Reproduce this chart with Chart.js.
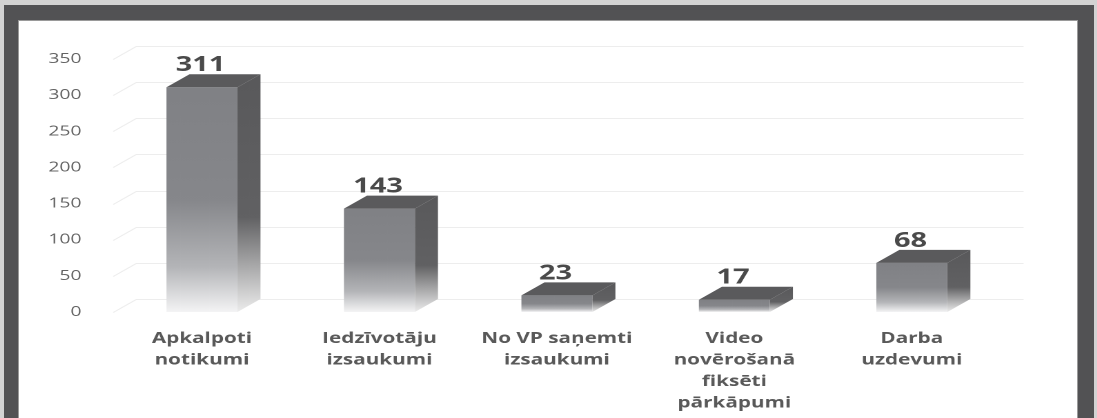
<!DOCTYPE html>
<html>
<head>
<meta charset="utf-8">
<script src="https://cdn.jsdelivr.net/npm/chart.js@4"></script>
<style>
    body { margin: 0; background: #d3d3d3; width: 1097px; height: 418px; overflow: hidden; position: relative; }
    #ramis { position: absolute; left: 4px; top: 5px; width: 1090px; height: 500px; background: #525254; }
    #lapa { position: absolute; left: 18px; top: 20px; width: 1060px; height: 500px; background: #fff; box-shadow: inset 0 0 0 1px #9a9a9a; }
    #ietvars { position: absolute; left: 18px; top: 20px; transform: scaleX(1.38); transform-origin: 0 0; }
</style>
</head>
<body>
<div id="ramis"></div>
<div id="lapa"></div>
<div id="ietvars"><canvas id="grafiks" width="768" height="398"></canvas></div>
<script>
const kategorijas = [
    ['Apkalpoti', 'notikumi'],
    ['Iedzīvotāju', 'izsaukumi'],
    ['No VP saņemti', 'izsaukumi'],
    ['Video', 'novērošanā', 'fiksēti', 'pārkāpumi'],
    ['Darba', 'uzdevumi']
];
const vertibas = [311, 143, 23, 17, 68];
const yTicks = [0, 50, 100, 150, 200, 250, 300, 350];

// 3D dziļums (loģiskajos pikseļos, pirms horizontālās izstiepšanas)
const dzX = 16.7;
const dzY = 13;

function prieksasKrasa(c) {
    const chart = c.chart;
    const y = chart.scales.y;
    if (!y || c.raw === undefined) return '#848589';
    const augsa = y.getPixelForValue(c.raw);
    const pamats = y.getPixelForValue(0);
    if (!isFinite(augsa) || !isFinite(pamats)) return '#848589';
    const g = chart.ctx.createLinearGradient(0, augsa, 0, pamats);
    g.addColorStop(0, '#808185');
    g.addColorStop(0.5, '#86878b');
    g.addColorStop(0.8, '#b4b5b8');
    g.addColorStop(1, '#f4f4f5');
    return g;
}

const sienas = {
    id: 'sienas',
    beforeDatasetsDraw(chart) {
        const ctx = chart.ctx;
        const y = chart.scales.y;
        const { left, right } = chart.chartArea;
        ctx.save();
        ctx.strokeStyle = '#ededed';
        ctx.lineWidth = 1;
        yTicks.forEach(v => {
            const py = Math.round(y.getPixelForValue(v)) + 0.5;
            ctx.beginPath();
            ctx.moveTo(left, py);
            ctx.lineTo(left + dzX, py - dzY);
            ctx.lineTo(right + dzX, py - dzY);
            ctx.stroke();
        });
        ctx.restore();
    },
    afterDatasetsDraw(chart) {
        const ctx = chart.ctx;
        const meta = chart.getDatasetMeta(0);
        ctx.save();
        meta.data.forEach((bar, i) => {
            const p = bar.getProps(['x', 'y', 'base', 'width'], true);
            const l = p.x - p.width / 2;
            const r = p.x + p.width / 2;

            // sāns
            const gs = ctx.createLinearGradient(0, p.y - dzY, 0, p.base);
            gs.addColorStop(0, '#59595b');
            gs.addColorStop(0.6, '#616163');
            gs.addColorStop(1, '#ececec');
            ctx.fillStyle = gs;
            ctx.beginPath();
            ctx.moveTo(r, p.y);
            ctx.lineTo(r + dzX, p.y - dzY);
            ctx.lineTo(r + dzX, p.base - dzY);
            ctx.lineTo(r, p.base);
            ctx.closePath();
            ctx.fill();

            // augša
            ctx.fillStyle = '#5a5a5c';
            ctx.beginPath();
            ctx.moveTo(l, p.y);
            ctx.lineTo(l + dzX, p.y - dzY);
            ctx.lineTo(r + dzX, p.y - dzY);
            ctx.lineTo(r, p.y);
            ctx.closePath();
            ctx.fill();

            // vērtība
            ctx.fillStyle = '#4a4a4a';
            ctx.font = 'bold 21px "Open Sans"';
            ctx.textAlign = 'center';
            ctx.textBaseline = 'alphabetic';
            ctx.fillText(vertibas[i], p.x - 1, p.y - dzY - 3);
        });
        ctx.restore();
    }
};

new Chart(document.getElementById('grafiks'), {
    type: 'bar',
    data: {
        labels: kategorijas,
        datasets: [{
            data: vertibas,
            backgroundColor: prieksasKrasa,
            borderWidth: 0,
            categoryPercentage: 0.8,
            barPercentage: 0.5
        }]
    },
    options: {
        responsive: false,
        animation: false,
        devicePixelRatio: 2,
        events: [],
        layout: { padding: { top: 39, right: 56, left: 0, bottom: 0 } },
        plugins: {
            legend: { display: false },
            tooltip: { enabled: false }
        },
        scales: {
            x: {
                grid: { display: false },
                border: { display: false },
                ticks: {
                    color: '#595959',
                    font: { family: 'Open Sans', size: 15, weight: 'bold', lineHeight: 1.43 },
                    padding: 8,
                    maxRotation: 0,
                    autoSkip: false
                },
                afterFit: s => { s.height = 106; }
            },
            y: {
                min: yTicks[0],
                max: yTicks[yTicks.length - 1],
                grid: { display: false },
                border: { display: false },
                ticks: {
                    color: '#636363',
                    font: { family: 'Open Sans', size: 14 },
                    padding: 15
                },
                afterBuildTicks: s => { s.ticks = yTicks.map(v => ({ value: v })); },
                afterFit: s => { s.width = 69; }
            }
        }
    },
    plugins: [sienas]
});
</script>
</body>
</html>
